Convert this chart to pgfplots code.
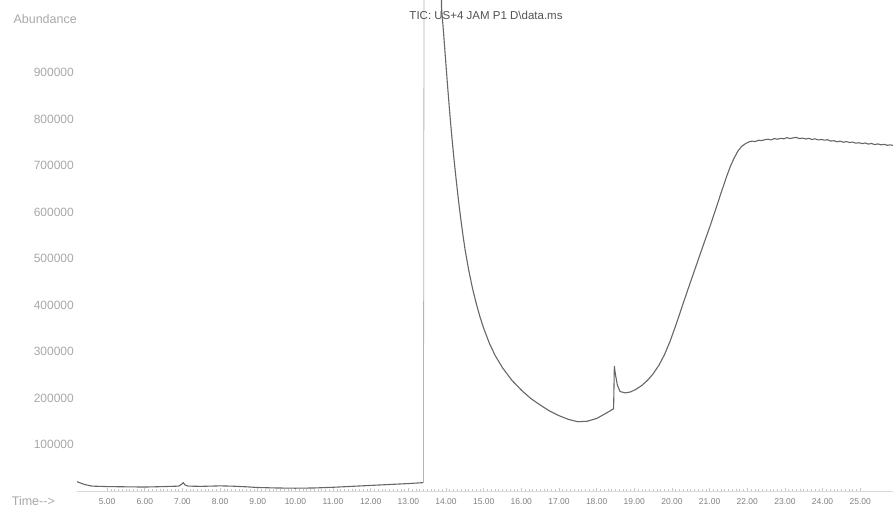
\documentclass[border=0pt]{standalone}
\usepackage{fontspec}
\setmainfont{Liberation Sans}
\usepackage{pgfplots}
\pgfplotsset{compat=1.18}
\definecolor{curve}{gray}{0.40}
\definecolor{lbl}{gray}{0.50}
\definecolor{ylbl}{gray}{0.66}
\definecolor{ttl}{gray}{0.32}
\begin{document}
\begin{tikzpicture}
\path[use as bounding box] (0,0) rectangle (893bp,512bp);
\begin{axis}[
  at={(77bp,21bp)}, anchor=south west,
  scale only axis, width=816bp, height=491bp,
  xmin=4.2, xmax=25.87, ymin=0, ymax=1056000,
  axis x line*=bottom, axis y line*=left,
  x axis line style={-, draw=gray!30},
  y axis line style={-, draw=none},
  xtick pos=bottom, ytick pos=left, tick align=inside,
  xtick={5,...,25},
  xticklabels={5.00,6.00,7.00,8.00,9.00,10.00,11.00,12.00,13.00,14.00,15.00,16.00,17.00,18.00,19.00,20.00,21.00,22.00,23.00,24.00,25.00},
  minor x tick num=9,
  major tick length=3bp, minor tick length=2bp,
  x tick style={draw=gray!45, line width=0.6bp},
  ytick={100000,200000,300000,400000,500000,600000,700000,800000,900000},
  yticklabels={100000,200000,300000,400000,500000,600000,700000,800000,900000},
  scaled y ticks=false,
  major y tick style={draw=none},
  xticklabel style={font=\fontsize{8.5bp}{9bp}\selectfont, text=lbl, inner sep=0pt, yshift=-7bp},
  yticklabel style={font=\fontsize{12bp}{14bp}\selectfont, text=ylbl, anchor=east, inner sep=0pt, xshift=-3bp},
]
\addplot[color=curve, line width=1.1bp, line join=round] coordinates {
(4.20,20000) (4.40,14000) (4.60,10500) (5.00,9500) (5.50,9000) (6.00,8500)
(6.50,9500) (6.90,10500) (6.97,14000) (7.02,18000) (7.07,13000) (7.15,10500)
(7.50,10000) (8.00,11000) (8.30,10500) (8.70,9000) (9.00,7500) (9.50,6500)
(10.00,6000) (10.50,6500) (11.00,8000) (11.50,10000) (12.00,12000) (12.50,14000)
(13.00,16000) (13.30,17500) (13.40,18000)
};
\addplot[color=gray!60, line width=0.8bp] coordinates {(13.40,18000) (13.42,1400000)};
\addplot[color=curve, line width=1.1bp, line join=round] coordinates {
(13.85,1400000)
(13.88,1040000) (13.92,1000000) (13.96,958000) (14.00,915000) (14.05,862000)
(14.10,812000) (14.15,766000) (14.20,723000) (14.25,684000) (14.30,647000)
(14.35,612000) (14.40,580000) (14.45,550000) (14.50,522000) (14.60,476000)
(14.70,437000) (14.80,404000) (14.90,375000) (15.00,350000) (15.15,318000)
(15.30,292000) (15.50,265000) (15.75,238000) (16.00,217000) (16.25,199000)
(16.50,185000) (16.75,172000) (17.00,162000) (17.25,154000) (17.50,149000)
(17.75,150000) (18.00,156000) (18.20,165000) (18.35,172000) (18.45,177000)
(18.47,268000) (18.50,250000) (18.55,228000) (18.62,214000) (18.76,211000)
(18.90,213000) (19.05,219000) (19.20,227000) (19.35,238000) (19.50,252000)
(19.65,270000) (19.80,293000) (19.95,322000) (20.10,356000) (20.25,392000)
(20.40,428000) (20.55,463000) (20.70,498000) (20.85,533000) (21.00,567000)
(21.15,603000) (21.30,640000) (21.45,676000) (21.55,698000) (21.65,716000)
(21.75,731000) (21.85,741000) (21.95,747000)
(22.05,751000) (22.13,752500) (22.21,751500) (22.30,754500) (22.38,753500)
(22.46,755500) (22.55,756500) (22.63,755000) (22.72,758000) (22.80,756500)
(22.88,758500) (22.97,757500) (23.05,760000) (23.13,758000) (23.22,759500)
(23.30,760500) (23.38,758000) (23.47,759000) (23.55,757000) (23.63,758500)
(23.72,756000) (23.80,757500) (23.88,755000) (23.97,756000) (24.05,754500)
(24.13,755500) (24.22,752500) (24.30,753500) (24.38,751000) (24.47,752500)
(24.55,750000) (24.63,751500) (24.72,749500) (24.80,750500) (24.88,748000)
(24.97,749000) (25.05,747000) (25.13,748500) (25.22,746000) (25.30,747500)
(25.38,745000) (25.47,746500) (25.55,744500) (25.63,745500) (25.72,743500)
(25.80,744500) (25.88,743000)
};
\end{axis}
\node[anchor=east, inner sep=0pt, text=ylbl, font=\fontsize{12.5bp}{14bp}\selectfont] at (77bp,493bp) {Abundance};
\node[anchor=east, inner sep=0pt, text=ylbl, font=\fontsize{12.5bp}{14bp}\selectfont] at (55bp,11bp) {Time-{}-{}>};
\node[inner sep=0pt, text=ttl, font=\fontsize{11.5bp}{13bp}\selectfont] at (486bp,497bp) {TIC: US+4 JAM P1 D\textbackslash{}data.ms};
\end{tikzpicture}
\end{document}
